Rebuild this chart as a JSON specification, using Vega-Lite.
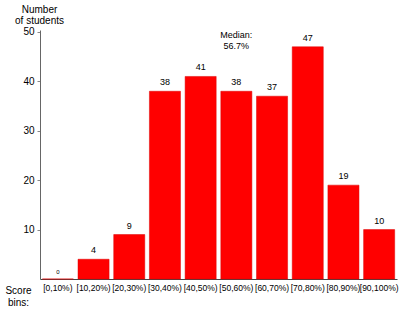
{
  "$schema": "https://vega.github.io/schema/vega-lite/v6.json",
  "width": 357,
  "height": 249,
  "autosize": {"type": "none"},
  "padding": {"left": 40, "top": 30, "right": 18, "bottom": 42},
  "background": "white",
  "config": {
    "view": {"stroke": null},
    "font": "Liberation Sans"
  },
  "data": {
    "values": [
      {"bin": "[0,10%)", "count": 0},
      {"bin": "[10,20%)", "count": 4},
      {"bin": "[20,30%)", "count": 9},
      {"bin": "[30,40%)", "count": 38},
      {"bin": "[40,50%)", "count": 41},
      {"bin": "[50,60%)", "count": 38},
      {"bin": "[60,70%)", "count": 37},
      {"bin": "[70,80%)", "count": 47},
      {"bin": "[80,90%)", "count": 19},
      {"bin": "[90,100%)", "count": 10}
    ]
  },
  "encoding": {
    "x": {
      "field": "bin",
      "type": "nominal",
      "sort": null,
      "scale": {"paddingInner": 0.13, "paddingOuter": 0.065},
      "axis": {
        "title": ["Score", "bins:"],
        "titleX": -22,
        "titleY": 6,
        "titleAlign": "center",
        "titleBaseline": "top",
        "titleFontWeight": "normal",
        "titleFontSize": 10,
        "titleLineHeight": 12,
        "titleColor": "#000",
        "labelAngle": 0,
        "labelFontSize": 8.5,
        "labelColor": "#000",
        "labelPadding": 4,
        "ticks": false,
        "domainColor": "#444",
        "labelOverlap": false
      }
    },
    "y": {
      "field": "count",
      "type": "quantitative",
      "scale": {"domain": [0, 50.4], "nice": false},
      "axis": {
        "values": [10, 20, 30, 40, 50],
        "title": ["Number", "of students"],
        "titleAngle": 0,
        "titleX": -1,
        "titleY": -26,
        "titleAlign": "center",
        "titleBaseline": "top",
        "titleFontWeight": "normal",
        "titleFontSize": 10,
        "titleLineHeight": 11,
        "titleColor": "#000",
        "grid": false,
        "tickSize": 3,
        "tickColor": "#888",
        "domainColor": "#666",
        "labelFontSize": 10,
        "labelColor": "#000",
        "labelPadding": 3
      }
    }
  },
  "layer": [
    {
      "mark": {"type": "bar", "color": "#ff0000", "stroke": "#dd0000", "strokeWidth": 0.5}
    },
    {
      "mark": {"type": "text", "baseline": "bottom", "dy": -4, "fontSize": 9, "color": "#000"},
      "encoding": {
        "text": {"field": "count", "type": "quantitative"},
        "size": {"condition": {"test": "datum.count == 0", "value": 6}, "value": 9}
      }
    },
    {
      "data": {"values": [{"bin": "[50,60%)", "pos": 50.2, "label": "Median:\n56.7%"}]},
      "mark": {"type": "text", "baseline": "top", "lineBreak": "\n", "lineHeight": 11, "fontSize": 9, "color": "#000"},
      "encoding": {
        "x": {"field": "bin", "type": "nominal"},
        "y": {"field": "pos", "type": "quantitative"},
        "text": {"field": "label"}
      }
    }
  ]
}
